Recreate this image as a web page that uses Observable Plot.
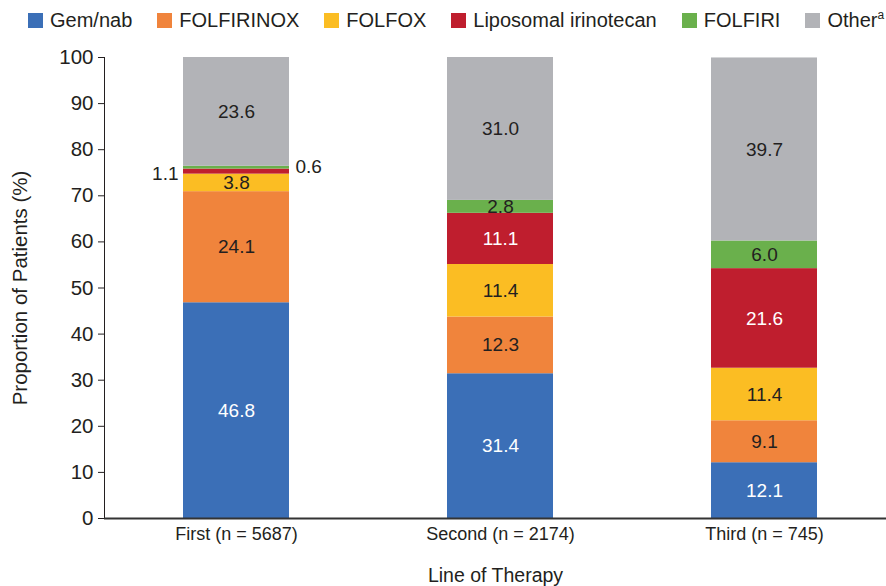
<!DOCTYPE html>
<html>
<head>
<meta charset="utf-8">
<script src="https://cdn.jsdelivr.net/npm/d3@7"></script>
<script src="https://cdn.jsdelivr.net/npm/@observablehq/plot@0.6"></script>
<style>
  html, body { margin: 0; padding: 0; background: #fff; }
  body { width: 886px; height: 586px; overflow: hidden; font-family: "Liberation Sans", Arial, sans-serif; color: #231f20; }
  #legend { height: 40px; display: flex; align-items: center; padding-left: 28px; gap: 25px; font-size: 20px; box-sizing: border-box; }
  #legend .item { display: flex; align-items: center; white-space: nowrap; }
  #legend .sw { width: 15px; height: 15px; margin-right: 7px; display: inline-block; }
  #legend sup { font-size: 12px; vertical-align: 8px; line-height: 0; }
</style>
</head>
<body>
<div id="legend"></div>
<div id="chart"></div>
<script>
// ---- data ----
const lines = ["First (n = 5687)", "Second (n = 2174)", "Third (n = 745)"];
const regimens = ["Gem/nab", "FOLFIRINOX", "FOLFOX", "Liposomal irinotecan", "FOLFIRI", "Other"];
const regimenColors = ["#3b6fb7", "#f0843c", "#fbbd23", "#bf1e2e", "#6ab04c", "#b2b3b7"];
const gemNab = [46.8, 31.4, 12.1];
const folfirinox = [24.1, 12.3, 9.1];
const folfox = [3.8, 11.4, 11.4];
const liposomal = [1.1, 11.1, 21.6];
const folfiri = [0.6, 2.8, 6.0];
const other = [23.6, 31.0, 39.7];
const yTicks = [0, 10, 20, 30, 40, 50, 60, 70, 80, 90, 100];
const whiteLabelRegimens = ["Gem/nab", "Liposomal irinotecan"];
const leftSmallRegimens = ["Liposomal irinotecan"];
const rightSmallRegimens = ["FOLFIRI"];

const seriesValues = [gemNab, folfirinox, folfox, liposomal, folfiri, other];
const rows = [];
lines.forEach((line, i) => {
  regimens.forEach((reg, j) => {
    rows.push({line, regimen: reg, value: seriesValues[j][i]});
  });
});

// ---- legend ----
const legend = document.getElementById("legend");
regimens.forEach((reg, j) => {
  const item = document.createElement("div");
  item.className = "item";
  const sw = document.createElement("span");
  sw.className = "sw";
  sw.style.background = regimenColors[j];
  item.appendChild(sw);
  const label = document.createElement("span");
  label.textContent = reg;
  if (reg === "Other") {
    const sup = document.createElement("sup");
    sup.textContent = "a";
    label.appendChild(sup);
  }
  item.appendChild(label);
  legend.appendChild(item);
});

const fmt = d => d.value.toFixed(1);
const small = d => d.value < 2;
const dark = "#231f20";

const chart = Plot.plot({
  width: 886,
  height: 546,
  marginTop: 17,
  marginBottom: 68,
  marginLeft: 104,
  marginRight: 0,
  style: {fontSize: "20.5px", fontFamily: "'Liberation Sans', Arial, sans-serif", color: dark, background: "#fff"},
  x: {
    domain: lines,
    range: [104, 896],
    paddingInner: 0.6,
    paddingOuter: 0.3
  },
  y: {
    domain: [0, 100],
    ticks: yTicks,
    tickSize: 6,
    tickPadding: 5,
    line: true,
    label: "Proportion of Patients (%)",
    labelArrow: "none",
    labelAnchor: "center",
    labelOffset: 92
  },
  color: {domain: regimens, range: regimenColors},
  marks: [
    Plot.barY(rows, {x: "line", y: "value", fill: "regimen"}),
    Plot.text(rows, Plot.stackY({x: "line", y: "value",
      text: d => (!small(d) && whiteLabelRegimens.includes(d.regimen)) ? fmt(d) : "",
      fill: "white", fontSize: 19})),
    Plot.text(rows, Plot.stackY({x: "line", y: "value",
      text: d => (!small(d) && !whiteLabelRegimens.includes(d.regimen)) ? fmt(d) : "",
      fill: dark, fontSize: 19})),
    Plot.text(rows, Plot.stackY({x: "line", y: "value",
      text: d => (small(d) && leftSmallRegimens.includes(d.regimen)) ? fmt(d) : "",
      fill: dark, fontSize: 19, textAnchor: "end", dx: -58, dy: 2})),
    Plot.text(rows, Plot.stackY({x: "line", y: "value",
      text: d => (small(d) && rightSmallRegimens.includes(d.regimen)) ? fmt(d) : "",
      fill: dark, fontSize: 19, textAnchor: "start", dx: 59, dy: -1})),
    Plot.axisX({
      tickSize: 0,
      tickPadding: 9,
      fontSize: 18,
      label: null
    }),
    Plot.axisX({
      ticks: [],
      fontSize: 19.5,
      label: "Line of Therapy",
      labelArrow: "none",
      labelAnchor: "center",
      labelOffset: 63
    }),
    Plot.ruleY([0], {stroke: "#333", strokeWidth: 2})
  ]
});
document.getElementById("chart").appendChild(chart);
</script>
</body>
</html>
